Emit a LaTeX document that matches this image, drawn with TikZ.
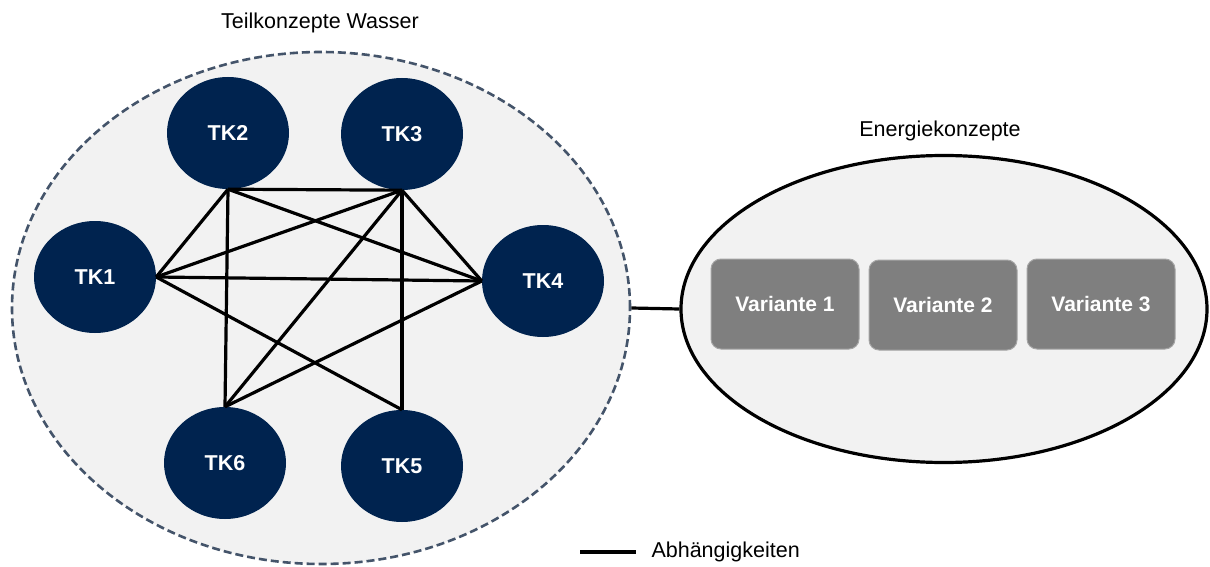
\documentclass[tikz,border=0pt]{standalone}
\usepackage{fontspec}
\setmainfont{Liberation Sans}
\usetikzlibrary{shapes.geometric}
\definecolor{navy}{HTML}{00234F}
\definecolor{lightbg}{HTML}{F2F2F2}
\definecolor{dashcol}{HTML}{44546A}
\definecolor{boxgray}{HTML}{7F7F7F}
\tikzset{
  tk/.style={ellipse, fill=navy, minimum width=122pt, minimum height=112pt, inner sep=0pt,
    text=white, font=\fontsize{21.5}{25}\selectfont\bfseries},
  var/.style={rounded corners=10pt, fill=boxgray, draw=boxgray!70!white, line width=1pt, minimum width=148pt, minimum height=90pt,
    text=white, font=\fontsize{21}{25}\selectfont\bfseries},
  lbl/.style={font=\fontsize{21.5}{25}\selectfont, text=black},
  dep/.style={line width=3.2pt, black},
}
\begin{document}
\begin{tikzpicture}[x=1pt,y=-1pt]
\useasboundingbox (0,0) rectangle (1210,567);
% containers
\node[ellipse, draw=dashcol, dash pattern=on 8pt off 4pt, line width=2.6pt, fill=lightbg, minimum width=618pt, minimum height=512pt, inner sep=0pt] (water) at (321,308) {};
\node[ellipse, draw=black, line width=3.2pt, fill=lightbg, minimum width=526pt, minimum height=307pt, inner sep=0pt] (energy) at (944,309) {};
\node[lbl] (twtitle) at (320,23) {Teilkonzepte Wasser};
\node[lbl] (entitle) at (940,131) {Energiekonzepte};
% TK nodes
\node[tk] (TK2) at (228,133) {TK2};
\node[tk] (TK3) at (402,134) {TK3};
\node[tk] (TK1) at (95,277) {TK1};
\node[tk] (TK4) at (543,281) {TK4};
\node[tk] (TK6) at (225,463) {TK6};
\node[tk] (TK5) at (402,466) {TK5};
% dependencies
\draw[dep] (TK2.south) -- (TK3.south);
\draw[dep] (TK2.south) -- (TK1.east);
\draw[dep] (TK2.south) -- (TK4.west);
\draw[dep] (TK2.south) -- (TK6.north);
\draw[dep] (TK3.south) -- (TK1.east);
\draw[dep] (TK3.south) -- (TK4.west);
\draw[dep] (TK3.south) -- (TK6.north);
\draw[dep] (TK3.south) -- (TK5.north);
\draw[dep] (TK1.east) -- (TK4.west);
\draw[dep] (TK1.east) -- (TK5.north);
\draw[dep] (TK4.west) -- (TK6.north);
% link between containers
\draw[dep] (water.east) -- (energy.west);
% variants
\node[var] (V1) at (785,304) {Variante 1};
\node[var] (V2) at (943,305) {Variante 2};
\node[var] (V3) at (1101,304) {Variante 3};
% legend
\coordinate (leg1) at (580,552);
\coordinate (leg2) at (636,552);
\draw[dep] (leg1) -- (leg2);
\node[lbl, anchor=west] (legtext) at (648,552) {Abhängigkeiten};
\end{tikzpicture}
\end{document}
